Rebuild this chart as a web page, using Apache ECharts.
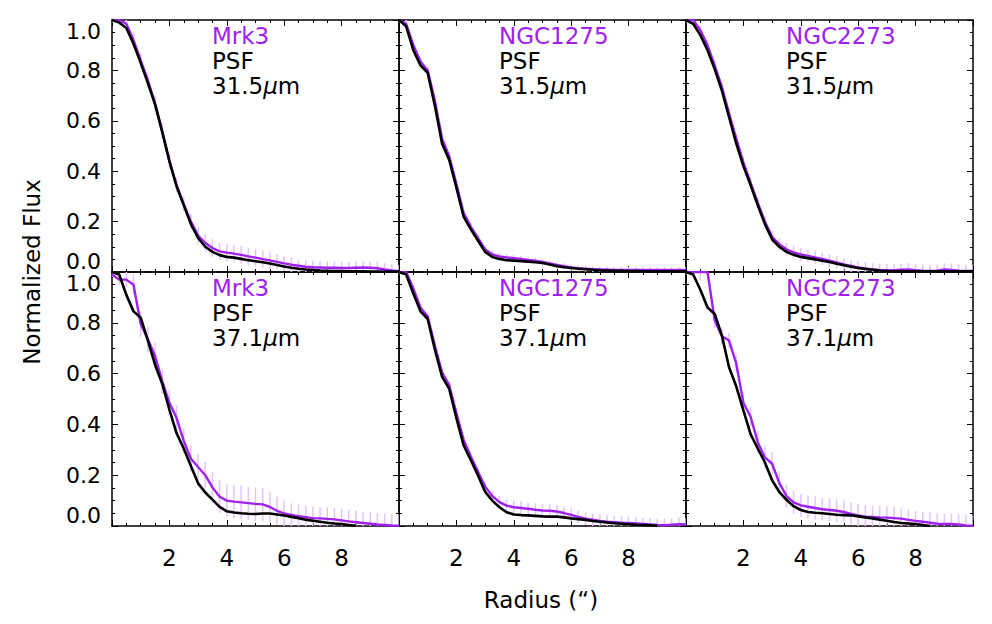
<!DOCTYPE html>
<html>
<head>
<meta charset="utf-8">
<title>Radial profiles</title>
<script src="https://cdn.jsdelivr.net/npm/echarts@6/dist/echarts.min.js"></script>
<style>
html, body { margin: 0; padding: 0; background: #fff; }
#main { width: 992px; height: 624px; }
</style>
</head>
<body>
<div id="main"></div>
<script>
// radius (arcsec) sampled along every profile
var radius = [0, 0.25, 0.5, 0.75, 1, 1.25, 1.5, 1.75, 2, 2.25, 2.5, 2.75, 3, 3.25, 3.5, 3.75, 4, 4.25, 4.5, 4.75,
  5, 5.25, 5.5, 5.75, 6, 6.25, 6.5, 6.75, 7, 7.25, 7.5, 7.75, 8, 8.25, 8.5, 8.75, 9, 9.25, 9.5, 9.75, 10];

// 31.5 micron
var mrk3_315 = [1.0, 1.0, 0.985, 0.92, 0.84, 0.76, 0.67, 0.56, 0.44, 0.345, 0.27, 0.2, 0.145, 0.115, 0.095, 0.082, 0.077, 0.073, 0.068, 0.062,
  0.057, 0.051, 0.046, 0.04, 0.034, 0.029, 0.025, 0.021, 0.019, 0.018, 0.017, 0.017, 0.016, 0.016, 0.017, 0.018, 0.017, 0.015, 0.01, 0.006, 0.003];
var mrk3_315_err = [0.01, 0.02, 0.03, 0.03, 0.03, 0.03, 0.03, 0.03, 0.03, 0.03, 0.03, 0.03, 0.035, 0.035, 0.035, 0.035, 0.035, 0.035, 0.035, 0.035,
  0.035, 0.035, 0.035, 0.03, 0.03, 0.03, 0.025, 0.025, 0.025, 0.025, 0.025, 0.025, 0.025, 0.025, 0.025, 0.025, 0.025, 0.025, 0.025, 0.025, 0.025];
var psf_mrk3_315 = [1.0, 0.99, 0.968, 0.906, 0.83, 0.75, 0.665, 0.555, 0.44, 0.34, 0.265, 0.19, 0.135, 0.1, 0.08, 0.067, 0.06, 0.057, 0.052, 0.047,
  0.043, 0.039, 0.034, 0.028, 0.022, 0.017, 0.013, 0.01, 0.008, 0.006, 0.005, 0.004, 0.004, 0.003, 0.003, 0.003, 0.002, 0.002, 0.002, 0.002, 0.002];

var n1275_315 = [1.0, 0.985, 0.9, 0.835, 0.8, 0.68, 0.53, 0.46, 0.35, 0.235, 0.18, 0.135, 0.09, 0.07, 0.062, 0.058, 0.055, 0.052, 0.048, 0.045,
  0.04, 0.034, 0.028, 0.023, 0.018, 0.015, 0.013, 0.011, 0.01, 0.009, 0.008, 0.008, 0.008, 0.008, 0.008, 0.008, 0.008, 0.008, 0.008, 0.008, 0.008];
var n1275_315_err = [0.01, 0.015, 0.015, 0.015, 0.015, 0.015, 0.015, 0.015, 0.015, 0.015, 0.015, 0.015, 0.015, 0.015, 0.015, 0.015, 0.012, 0.012, 0.012, 0.012,
  0.012, 0.012, 0.012, 0.012, 0.012, 0.012, 0.012, 0.012, 0.012, 0.012, 0.012, 0.012, 0.012, 0.012, 0.012, 0.012, 0.012, 0.012, 0.012, 0.012, 0.012];
var psf_n1275_315 = [1.0, 0.975, 0.88, 0.82, 0.79, 0.66, 0.51, 0.445, 0.335, 0.22, 0.17, 0.125, 0.08, 0.06, 0.052, 0.047, 0.045, 0.043, 0.041, 0.039,
  0.036, 0.03, 0.023, 0.019, 0.016, 0.013, 0.011, 0.009, 0.007, 0.006, 0.005, 0.005, 0.004, 0.004, 0.003, 0.003, 0.003, 0.003, 0.003, 0.003, 0.003];

var n2273_315 = [1.0, 1.0, 0.96, 0.9, 0.82, 0.735, 0.63, 0.53, 0.435, 0.355, 0.275, 0.2, 0.14, 0.11, 0.09, 0.078, 0.07, 0.064, 0.058, 0.052,
  0.045, 0.038, 0.03, 0.024, 0.018, 0.014, 0.01, 0.008, 0.007, 0.007, 0.009, 0.01, 0.007, 0.005, 0.004, 0.005, 0.01, 0.008, 0.005, 0.004, 0.004];
var n2273_315_err = [0.01, 0.02, 0.02, 0.02, 0.02, 0.02, 0.02, 0.02, 0.02, 0.02, 0.02, 0.02, 0.025, 0.025, 0.025, 0.025, 0.025, 0.025, 0.025, 0.025,
  0.025, 0.025, 0.025, 0.025, 0.025, 0.025, 0.025, 0.025, 0.025, 0.025, 0.025, 0.025, 0.025, 0.025, 0.025, 0.025, 0.025, 0.025, 0.025, 0.025, 0.025];
var psf_n2273_315 = [1.0, 0.985, 0.94, 0.88, 0.805, 0.72, 0.615, 0.51, 0.42, 0.345, 0.265, 0.19, 0.13, 0.1, 0.08, 0.068, 0.06, 0.055, 0.05, 0.045,
  0.04, 0.033, 0.027, 0.021, 0.016, 0.012, 0.009, 0.006, 0.004, 0.003, 0.003, 0.003, 0.003, 0.003, 0.003, 0.003, 0.003, 0.003, 0.003, 0.003, 0.003];

// 37.1 micron
var mrk3_371 = [0.99, 0.97, 0.97, 0.95, 0.795, 0.735, 0.67, 0.57, 0.485, 0.425, 0.335, 0.265, 0.232, 0.2, 0.152, 0.115, 0.1, 0.096, 0.093, 0.09,
  0.087, 0.085, 0.075, 0.06, 0.05, 0.044, 0.039, 0.035, 0.031, 0.03, 0.028, 0.026, 0.022, 0.018, 0.015, 0.012, 0.009, 0.006, 0.004, 0.002, 0.001];
var mrk3_371_err = [0.01, 0.02, 0.03, 0.04, 0.05, 0.05, 0.05, 0.05, 0.05, 0.05, 0.05, 0.05, 0.05, 0.055, 0.06, 0.065, 0.065, 0.065, 0.065, 0.065,
  0.065, 0.065, 0.06, 0.055, 0.05, 0.045, 0.045, 0.045, 0.045, 0.045, 0.045, 0.045, 0.045, 0.045, 0.045, 0.045, 0.045, 0.045, 0.045, 0.045, 0.045];
var psf_mrk3_371 = [1.0, 0.99, 0.91, 0.845, 0.82, 0.73, 0.635, 0.56, 0.458, 0.365, 0.305, 0.236, 0.168, 0.132, 0.104, 0.075, 0.058, 0.053, 0.05, 0.048,
  0.047, 0.049, 0.049, 0.045, 0.041, 0.036, 0.031, 0.025, 0.021, 0.017, 0.013, 0.01, 0.008, 0.004, 0.001, null, null, null, null, null, null];

var n1275_371 = [1.0, 1.0, 0.935, 0.86, 0.825, 0.71, 0.605, 0.555, 0.445, 0.34, 0.275, 0.215, 0.155, 0.118, 0.094, 0.08, 0.074, 0.071, 0.068, 0.064,
  0.061, 0.06, 0.057, 0.051, 0.044, 0.036, 0.029, 0.025, 0.02, 0.017, 0.015, 0.013, 0.012, 0.01, 0.008, 0.006, 0.004, 0.003, 0.005, 0.007, 0.006];
var n1275_371_err = [0.01, 0.015, 0.015, 0.015, 0.015, 0.015, 0.015, 0.015, 0.015, 0.015, 0.015, 0.015, 0.02, 0.02, 0.025, 0.025, 0.025, 0.025, 0.025, 0.025,
  0.025, 0.025, 0.025, 0.025, 0.025, 0.025, 0.025, 0.025, 0.025, 0.025, 0.025, 0.025, 0.025, 0.025, 0.025, 0.025, 0.025, 0.025, 0.025, 0.025, 0.025];
var psf_n1275_371 = [1.0, 0.99, 0.915, 0.845, 0.815, 0.695, 0.588, 0.54, 0.425, 0.318, 0.26, 0.2, 0.135, 0.1, 0.074, 0.054, 0.045, 0.043, 0.042, 0.04,
  0.038, 0.037, 0.037, 0.034, 0.03, 0.027, 0.024, 0.02, 0.017, 0.014, 0.011, 0.009, 0.007, 0.005, 0.004, 0.003, 0.001, null, null, null, null];

var n2273_371 = [1.0, 1.0, 1.0, 1.0, 0.81, 0.747, 0.73, 0.64, 0.485, 0.43, 0.33, 0.27, 0.245, 0.17, 0.118, 0.093, 0.081, 0.076, 0.071, 0.066,
  0.063, 0.06, 0.055, 0.048, 0.042, 0.037, 0.036, 0.034, 0.033, 0.031, 0.029, 0.024, 0.02, 0.017, 0.013, 0.009, 0.008, 0.008, 0.006, 0.002, 0.001];
var n2273_371_err = [0.01, 0.02, 0.03, 0.03, 0.03, 0.03, 0.03, 0.035, 0.04, 0.04, 0.045, 0.045, 0.045, 0.045, 0.045, 0.045, 0.045, 0.045, 0.045, 0.045,
  0.045, 0.045, 0.045, 0.045, 0.045, 0.045, 0.045, 0.045, 0.045, 0.045, 0.04, 0.04, 0.04, 0.04, 0.04, 0.04, 0.04, 0.04, 0.04, 0.04, 0.04];
var psf_n2273_371 = [1.0, 0.99, 0.93, 0.86, 0.835, 0.75, 0.625, 0.55, 0.455, 0.362, 0.305, 0.25, 0.18, 0.134, 0.103, 0.078, 0.063, 0.055, 0.052, 0.05,
  0.047, 0.044, 0.043, 0.042, 0.038, 0.034, 0.03, 0.025, 0.021, 0.016, 0.012, 0.01, 0.008, 0.004, 0.0, null, null, null, null, null, null];

var xTicks = [2, 4, 6, 8];

var panels = [
  { name: 'Mrk3',    wave: '31.5', obj: mrk3_315,  err: mrk3_315_err,  psf: psf_mrk3_315 },
  { name: 'NGC1275', wave: '31.5', obj: n1275_315, err: n1275_315_err, psf: psf_n1275_315 },
  { name: 'NGC2273', wave: '31.5', obj: n2273_315, err: n2273_315_err, psf: psf_n2273_315 },
  { name: 'Mrk3',    wave: '37.1', obj: mrk3_371,  err: mrk3_371_err,  psf: psf_mrk3_371 },
  { name: 'NGC1275', wave: '37.1', obj: n1275_371, err: n1275_371_err, psf: psf_n1275_371 },
  { name: 'NGC2273', wave: '37.1', obj: n2273_371, err: n2273_371_err, psf: psf_n2273_371 }
];

var PURPLE = '#A020F0';
var FONT = 'DejaVu Sans';
var colLeft = [112, 399, 686], colWidth = 287;
var rowTop = [20, 272], rowHeight = [252, 254];

function pairs(arr) {
  var out = [];
  for (var i = 0; i < radius.length; i++) out.push([radius[i], arr[i]]);
  return out;
}
function errRows(arr, err) {
  var out = [];
  for (var i = 0; i < radius.length; i++) out.push([radius[i], arr[i] - err[i], arr[i] + err[i]]);
  return out;
}
// pale vertical error bar for each sampled radius
function renderErr(params, api) {
  var p1 = api.coord([api.value(0), api.value(1)]);
  var p2 = api.coord([api.value(0), api.value(2)]);
  return {
    type: 'line',
    shape: { x1: p1[0], y1: p1[1], x2: p2[0], y2: p2[1] },
    style: { stroke: '#E6C2FF', lineWidth: 1.5 }
  };
}

var tickStyle = { color: '#000', width: 1 };
function makeX(i, pos, showLabel) {
  return {
    type: 'value', gridIndex: i, position: pos, min: 0, max: 10, interval: 2,
    axisLine: { show: true, onZero: false, lineStyle: { color: '#000', width: 1.5 } },
    axisTick: { show: true, inside: true, length: 6, lineStyle: tickStyle },
    minorTick: { show: true, splitNumber: 4, length: 3, lineStyle: tickStyle },
    splitLine: { show: false },
    axisLabel: {
      show: showLabel, margin: 20, fontSize: 23, fontFamily: FONT, color: '#000',
      formatter: function (v) { return xTicks.indexOf(v) >= 0 ? String(v) : ''; }
    }
  };
}
function makeY(i, pos, showLabel) {
  return {
    type: 'value', gridIndex: i, position: pos, min: 0, max: 1, interval: 0.2,
    axisLine: { show: true, onZero: false, lineStyle: { color: '#000', width: 1.5 } },
    axisTick: { show: true, inside: true, length: 6, lineStyle: tickStyle },
    minorTick: { show: true, splitNumber: 4, length: 3, lineStyle: tickStyle },
    splitLine: { show: false },
    axisLabel: {
      show: showLabel, margin: 11, fontSize: 22, lineHeight: 22, fontFamily: FONT, color: '#000',
      verticalAlignMinLabel: 'bottom', verticalAlignMaxLabel: 'top',
      formatter: function (v) { return v.toFixed(1); }
    }
  };
}

var grids = [], xAxes = [], yAxes = [], series = [], graphics = [];
panels.forEach(function (p, i) {
  var row = Math.floor(i / 3), col = i % 3;
  grids.push({ left: colLeft[col], top: rowTop[row], width: colWidth, height: rowHeight[row] });
  xAxes.push(makeX(i, 'bottom', row === 1));
  xAxes.push(makeX(i, 'top', false));
  yAxes.push(makeY(i, 'left', col === 0));
  yAxes.push(makeY(i, 'right', false));

  series.push({
    type: 'custom', xAxisIndex: 2 * i, yAxisIndex: 2 * i, clip: true,
    renderItem: renderErr, data: errRows(p.obj, p.err), z: 1, silent: true
  });
  series.push({
    type: 'line', xAxisIndex: 2 * i, yAxisIndex: 2 * i, data: pairs(p.obj),
    symbol: 'none', lineStyle: { color: PURPLE, width: 2.4 }, z: 2, clip: true
  });
  series.push({
    type: 'line', xAxisIndex: 2 * i, yAxisIndex: 2 * i, data: pairs(p.psf),
    symbol: 'none', lineStyle: { color: '#000', width: 2.6 }, z: 3, clip: true
  });

  // panel labels, one text per line
  var tx = colLeft[col] + 100, ty = rowTop[row] + 4;
  graphics.push({
    type: 'text', x: tx, y: ty, z: 10,
    style: { text: p.name, fontSize: 23, fontFamily: FONT, fill: PURPLE, verticalAlign: 'top' }
  });
  graphics.push({
    type: 'text', x: tx, y: ty + 25, z: 10,
    style: { text: 'PSF', fontSize: 23, fontFamily: FONT, fill: '#000', verticalAlign: 'top' }
  });
  graphics.push({
    type: 'text', x: tx, y: ty + 50, z: 10,
    style: {
      text: '{k|' + p.wave + '}{mu|μ}{k|m}', verticalAlign: 'top',
      rich: {
        k: { fontSize: 23, fontFamily: FONT, fill: '#000', lineHeight: 23 },
        mu: { fontSize: 23, fontFamily: FONT, fill: '#000', fontStyle: 'italic', lineHeight: 23 }
      }
    }
  });
});

graphics.push({
  type: 'text', x: 32, y: 272, rotation: Math.PI / 2,
  style: { text: 'Normalized Flux', fontSize: 23, fontFamily: FONT, fill: '#000', align: 'center', verticalAlign: 'middle' }
});
graphics.push({
  type: 'text', x: 541, y: 600,
  style: { text: 'Radius (\u201C)', fontSize: 23, fontFamily: FONT, fill: '#000', align: 'center', verticalAlign: 'middle' }
});

var chart = echarts.init(document.getElementById('main'), null, { renderer: 'svg' });
chart.setOption({
  backgroundColor: '#fff',
  animation: false,
  grid: grids,
  xAxis: xAxes,
  yAxis: yAxes,
  series: series,
  graphic: graphics
});
</script>
</body>
</html>
